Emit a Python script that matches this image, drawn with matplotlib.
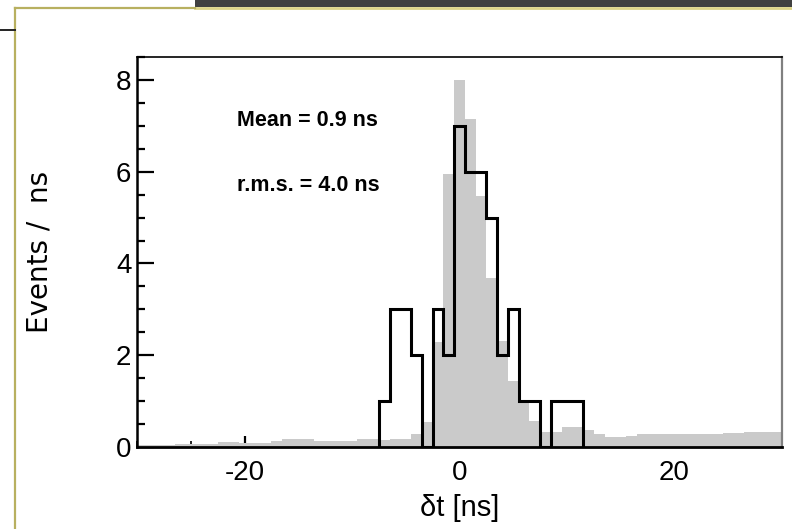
import numpy as np
import matplotlib.pyplot as plt
from matplotlib.lines import Line2D
from matplotlib.patches import Rectangle

# black histogram: data, 1 ns bins centred on -7 .. 11
data_centres = list(range(-7, 12))
data_counts = [1, 3, 3, 2, 0, 3, 2, 7, 6, 6, 5, 2, 3, 1, 1, 0, 1, 1, 1]

# grey histogram: expected shape, 1 ns bins centred on -30 .. 30
ref_centres = list(range(-30, 31))
ref_values = [0.05, 0.05, 0.05, 0.05, 0.07, 0.07, 0.07, 0.07, 0.10, 0.10,
              0.08, 0.08, 0.08, 0.13, 0.17, 0.17, 0.17, 0.13, 0.13, 0.13,
              0.13, 0.18, 0.18, 0.16, 0.17, 0.17, 0.28, 0.55, 2.29, 5.94,
              8.00, 7.15, 5.47, 3.69, 2.31, 1.44, 0.95, 0.57, 0.33, 0.33,
              0.44, 0.44, 0.36, 0.29, 0.22, 0.22, 0.25, 0.28, 0.28, 0.28,
              0.28, 0.28, 0.29, 0.29, 0.29, 0.31, 0.31, 0.32, 0.33, 0.33,
              0.33]

x_ticks = [-20, 0, 20]
y_ticks = [0, 2, 4, 6, 8]

plt.rcParams['axes.unicode_minus'] = False
sans = ['Liberation Sans', 'DejaVu Sans']

fig = plt.figure(figsize=(7.92, 5.29), dpi=100)
W, H = 792.0, 529.0

# slide decoration
fig.add_artist(Rectangle((195 / W, 1 - 7 / H), 1 - 195 / W, 7 / H,
                         transform=fig.transFigure, color='#404040', lw=0))
fig.add_artist(Line2D([195 / W, 1], [1 - 8 / H, 1 - 8 / H],
                      transform=fig.transFigure, color='#ddd488', lw=2))
fig.add_artist(Line2D([15 / W, 195 / W], [1 - 8 / H, 1 - 8 / H],
                      transform=fig.transFigure, color='#b8b060', lw=1.6))
fig.add_artist(Line2D([15 / W, 15 / W], [1 - 8 / H, 0],
                      transform=fig.transFigure, color='#b8b060', lw=1.6))
fig.add_artist(Line2D([0, 15 / W], [1 - 30 / H, 1 - 30 / H],
                      transform=fig.transFigure, color='#222222', lw=1.4))

ax = fig.add_axes([137 / W, 1 - 447 / H, (782 - 137) / W, (447 - 57) / H])

ax.bar(ref_centres, ref_values, width=1.0, color='#cacaca', linewidth=0, zorder=1)

edges = np.arange(data_centres[0] - 0.5, data_centres[-1] + 1.0, 1.0)
ax.stairs(data_counts, edges, color='black', linewidth=2.2, zorder=3)

ax.set_xlim(-30, 30)
ax.set_ylim(0, 8.5)
ax.set_axisbelow(True)

ax.set_xticks(x_ticks)
ax.set_yticks(y_ticks)
ax.set_xticks(np.arange(-30, 31, 5), minor=True)
ax.set_yticks(np.arange(0, 8.51, 0.5), minor=True)
ax.tick_params(axis='y', which='major', direction='in', length=12, width=1.6, pad=4)
ax.tick_params(axis='y', which='minor', direction='in', length=6, width=1.6)
ax.tick_params(axis='x', which='major', direction='in', length=8, width=1.6, pad=9)
ax.tick_params(axis='x', which='minor', direction='in', length=4, width=1.2)

for lab in ax.get_xticklabels() + ax.get_yticklabels():
    lab.set_family(sans)
    lab.set_fontsize(20)

ax.spines['left'].set_linewidth(1.8)
ax.spines['bottom'].set_linewidth(2.0)
ax.spines['top'].set_linewidth(1.2)
ax.spines['right'].set_linewidth(1.6)
ax.spines['right'].set_color('#808080')

ax.set_xlabel('δt [ns]', family=sans, fontsize=21, labelpad=6)
fig.text(40 / W, 1 - 252 / H, 'Events /  ns', rotation=90, ha='center', va='center',
         family='DejaVu Sans', fontsize=20)

ax.text(-20.7, 7.12, 'Mean = 0.9 ns', family=sans, fontweight='bold',
        fontsize=15.5, va='center', ha='left')
ax.text(-20.7, 5.7, 'r.m.s. = 4.0 ns', family=sans, fontweight='bold',
        fontsize=15.5, va='center', ha='left')

plt.savefig('out.png', dpi=100)
plt.close()
